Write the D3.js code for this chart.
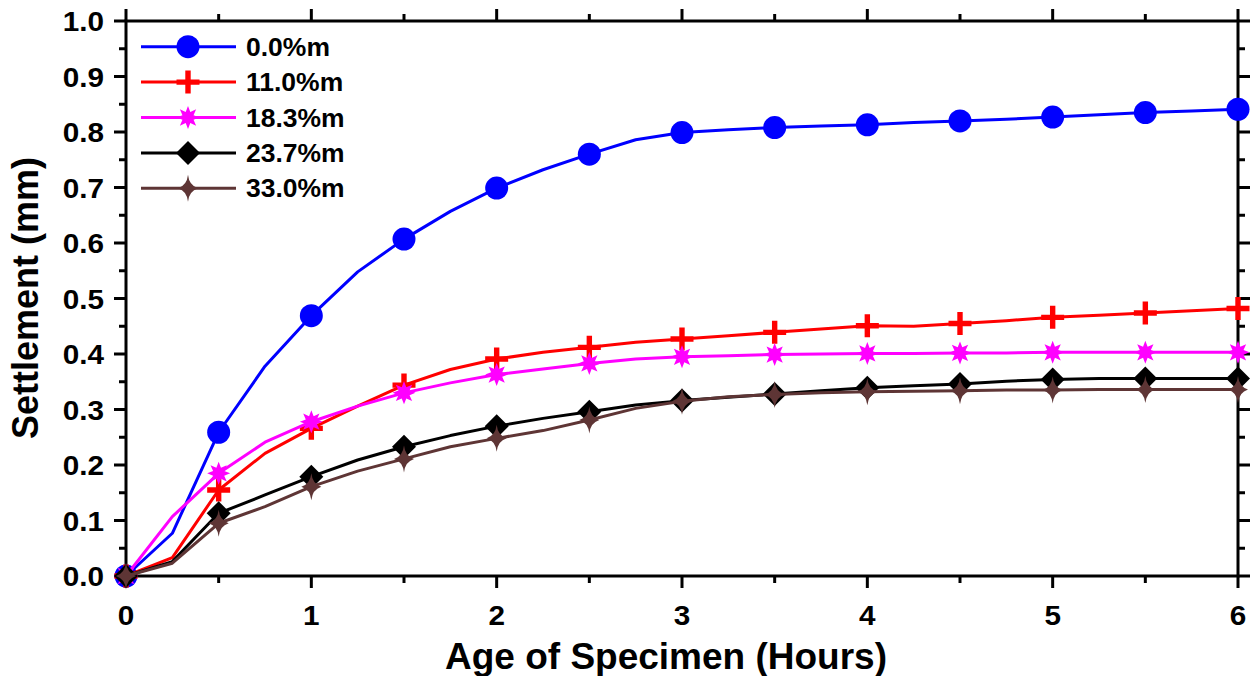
<!DOCTYPE html>
<html><head><meta charset="utf-8">
<script src="https://cdn.jsdelivr.net/npm/d3@7"></script>
<style>
html,body{margin:0;padding:0;background:#fff;}
svg text{font-family:"Liberation Sans",Arial,sans-serif;font-weight:bold;fill:#000;}
</style></head>
<body><svg id="c" width="1255" height="676"></svg>
<script>
const hours = [0,0.25,0.5,0.75,1,1.25,1.5,1.75,2,2.25,2.5,2.75,3,3.25,3.5,3.75,4,4.25,4.5,4.75,5,5.25,5.5,5.75,6];
const seriesNames = ["0.0%m","11.0%m","18.3%m","23.7%m","33.0%m"];
const s00 = [0,0.077,0.259,0.378,0.469,0.548,0.607,0.657,0.699,0.732,0.760,0.786,0.799,0.804,0.808,0.811,0.813,0.817,0.820,0.823,0.827,0.831,0.835,0.838,0.841];
const s110 = [0,0.033,0.155,0.221,0.266,0.306,0.344,0.372,0.391,0.403,0.412,0.421,0.427,0.433,0.439,0.445,0.451,0.450,0.455,0.460,0.466,0.470,0.474,0.478,0.482];
const s183 = [0,0.107,0.185,0.241,0.278,0.306,0.330,0.348,0.363,0.373,0.383,0.391,0.395,0.397,0.399,0.400,0.401,0.401,0.402,0.402,0.403,0.403,0.403,0.403,0.403];
const s237 = [0,0.026,0.113,0.146,0.179,0.209,0.233,0.253,0.270,0.284,0.296,0.308,0.316,0.322,0.328,0.334,0.339,0.343,0.346,0.351,0.354,0.356,0.356,0.356,0.356];
const s330 = [0,0.023,0.095,0.125,0.161,0.189,0.211,0.233,0.248,0.262,0.281,0.302,0.315,0.323,0.327,0.330,0.332,0.333,0.334,0.335,0.335,0.336,0.336,0.336,0.336];
const xTicks = [0,1,2,3,4,5,6];
const yTicks = [0,0.1,0.2,0.3,0.4,0.5,0.6,0.7,0.8,0.9,1.0];
const xTitle = "Age of Specimen (Hours)";
const yTitle = "Settlement (mm)";

const colors = ["#0000ff","#ff0000","#ff00ff","#000000","#5e3535"];
const shapes = ["circle","plus","star8","diamond","sparkle"];
const allSeries = [s00,s110,s183,s237,s330];

const svg = d3.select("#c");
const L=126, R=1238, T=21, B=576;
const x = d3.scaleLinear().domain([0,6]).range([L,R]);
const y = d3.scaleLinear().domain([0,1]).range([B,T]);

function markerPath(shape){
  if(shape==="plus"){
    const a=11.5,w=2.7;
    return `M${-w},${-a}H${w}V${-w}H${a}V${w}H${w}V${a}H${-w}V${w}H${-a}V${-w}H${-w}Z`;
  }
  if(shape==="star8"){
    const pts=[];const ro=11.5, ri=6;
    for(let i=0;i<16;i++){const ang=-Math.PI/2+i*Math.PI/8;const r=i%2?ri:ro;pts.push([r*Math.cos(ang),r*Math.sin(ang)]);}
    return "M"+pts.map(p=>p[0].toFixed(2)+","+p[1].toFixed(2)).join("L")+"Z";
  }
  if(shape==="diamond"){
    const a=12;return `M0,${-a}L${a},0L0,${a}L${-a},0Z`;
  }
  if(shape==="sparkle"){
    const v=13.5,h=10,c=2.8;
    return `M0,${-v}Q${c*0.4},${-c} ${h},0Q${c*0.4},${c} 0,${v}Q${-c*0.4},${c} ${-h},0Q${-c*0.4},${-c} 0,${-v}Z`;
  }
  return null;
}
function drawMarker(g,shape,color,cx,cy){
  if(shape==="circle"){
    g.append("circle").attr("cx",cx).attr("cy",cy).attr("r",11.5).attr("fill",color);
  } else {
    g.append("path").attr("d",markerPath(shape)).attr("transform",`translate(${cx},${cy})`).attr("fill",color);
  }
}

// axes
const axG = svg.append("g").attr("stroke","#000").attr("stroke-width",3).attr("fill","none");
const xMinor = d3.range(0,6.001,0.5).filter(v=>Math.abs(v-Math.round(v))>1e-6);
const yMinor = d3.range(0.05,1,0.1);
axG.append("rect").attr("x",L).attr("y",T).attr("width",R-L).attr("height",B-T);
xTicks.forEach(v=>{
  axG.append("line").attr("x1",x(v)).attr("x2",x(v)).attr("y1",B).attr("y2",B+12);
  axG.append("line").attr("x1",x(v)).attr("x2",x(v)).attr("y1",T).attr("y2",T-12);
});
xMinor.forEach(v=>{
  axG.append("line").attr("x1",x(v)).attr("x2",x(v)).attr("y1",B).attr("y2",B+7);
  axG.append("line").attr("x1",x(v)).attr("x2",x(v)).attr("y1",T).attr("y2",T-7);
});
yTicks.forEach(v=>{
  axG.append("line").attr("y1",y(v)).attr("y2",y(v)).attr("x1",L).attr("x2",L-12);
  axG.append("line").attr("y1",y(v)).attr("y2",y(v)).attr("x1",R).attr("x2",R+12);
});
yMinor.forEach(v=>{
  axG.append("line").attr("y1",y(v)).attr("y2",y(v)).attr("x1",L).attr("x2",L-7);
  axG.append("line").attr("y1",y(v)).attr("y2",y(v)).attr("x1",R).attr("x2",R+7);
});

// tick labels (slightly widened glyphs)
svg.append("g").selectAll("text").data(xTicks).join("text")
  .attr("transform",d=>`translate(${x(d)},625) scale(1.1,1)`).attr("text-anchor","middle")
  .style("font-size","27px").text(d=>d3.format("d")(d));
svg.append("g").selectAll("text").data(yTicks).join("text")
  .attr("transform",d=>`translate(104,${y(d)+10}) scale(1.1,1)`).attr("text-anchor","end")
  .style("font-size","27px").text(d=>d3.format(".1f")(d));

// titles
svg.append("text").attr("x",666).attr("y",669).attr("text-anchor","middle")
  .style("font-size","37px").text(xTitle);
svg.append("text").attr("transform","translate(38,298) rotate(-90)").attr("text-anchor","middle")
  .style("font-size","36px").text(yTitle);

// series
const line = d3.line().x((d,i)=>x(hours[i])).y(d=>y(d));
allSeries.forEach((s,k)=>{
  const g = svg.append("g");
  g.append("path").attr("d",line(s)).attr("fill","none").attr("stroke",colors[k]).attr("stroke-width",3).attr("stroke-linejoin","round");
  s.forEach((v,i)=>{
    if(Math.abs(hours[i]*2-Math.round(hours[i]*2))<1e-6) drawMarker(g,shapes[k],colors[k],x(hours[i]),y(v));
  });
});

// legend
const lg = svg.append("g");
seriesNames.forEach((n,k)=>{
  const ly = 46.7 + k*35.4;
  lg.append("line").attr("x1",141).attr("x2",236).attr("y1",ly).attr("y2",ly).attr("stroke",colors[k]).attr("stroke-width",3);
  drawMarker(lg,shapes[k],colors[k],188,ly);
  lg.append("text").attr("transform",`translate(246,${ly+9}) scale(1.06,1)`).style("font-size","25px").text(n);
});
</script></body></html>
